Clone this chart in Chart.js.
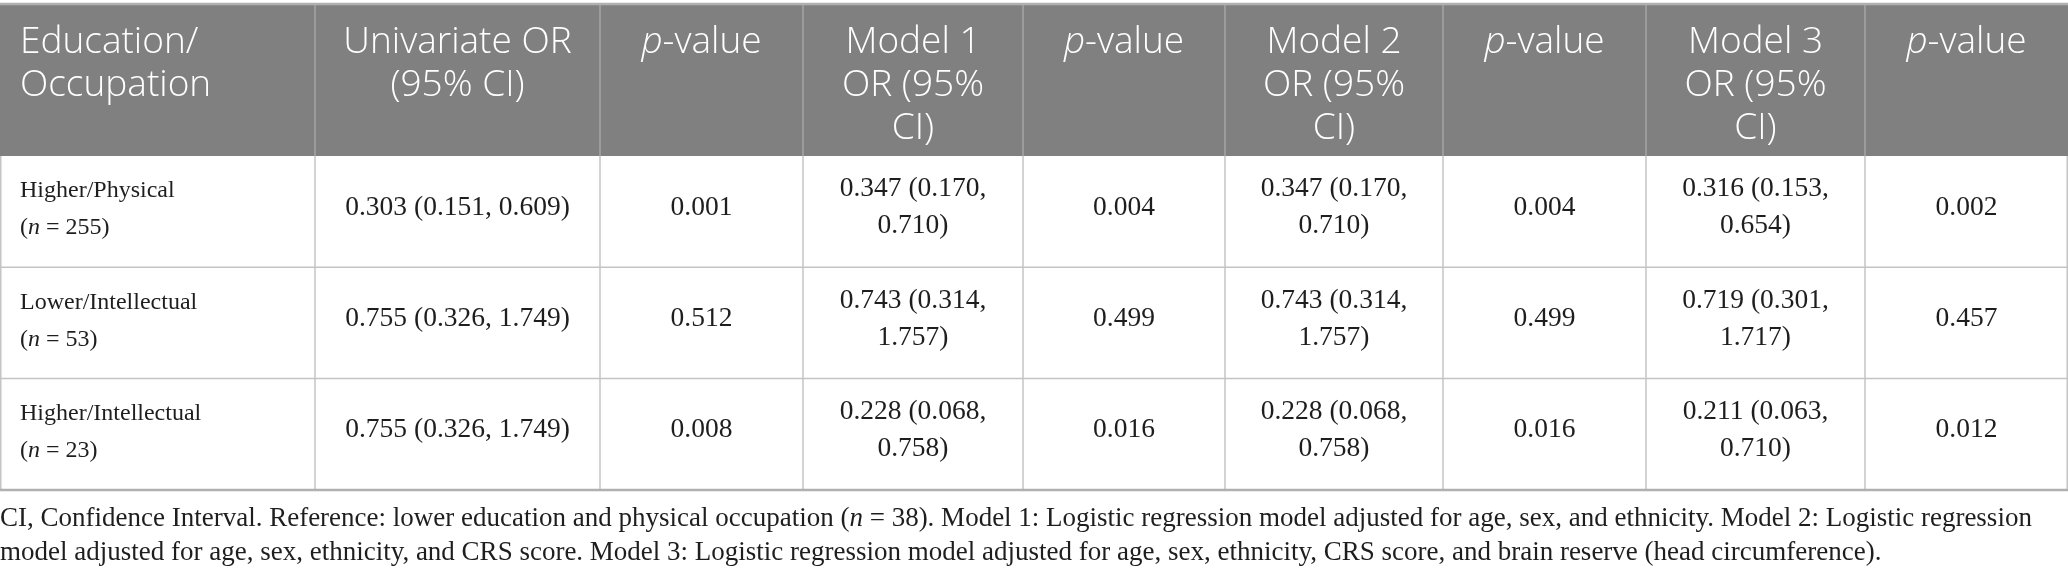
<!DOCTYPE html>
<html><head><meta charset="utf-8">
<script src="https://cdn.jsdelivr.net/npm/chart.js@4/dist/chart.umd.min.js"></script>
<style>html,body{margin:0;padding:0;background:#fff}#wrap{width:2068px;height:580px;position:relative}</style>
</head><body><div id="wrap"><canvas id="c"></canvas></div>
<script>
// ---------- data ----------
const headerLabels = ["Education/\nOccupation","Univariate OR\n(95% CI)","*p*-value","Model 1\nOR (95%\nCI)","*p*-value","Model 2\nOR (95%\nCI)","*p*-value","Model 3\nOR (95%\nCI)","*p*-value"];
const groups = ["Higher/Physical","Lower/Intellectual","Higher/Intellectual"];
const groupN = [255, 53, 23];
const univOR = [0.303, 0.755, 0.755];
const univLo = [0.151, 0.326, 0.326];
const univHi = [0.609, 1.749, 1.749];
const univP  = [0.001, 0.512, 0.008];
const m1OR = [0.347, 0.743, 0.228];
const m1Lo = [0.170, 0.314, 0.068];
const m1Hi = [0.710, 1.757, 0.758];
const m1P  = [0.004, 0.499, 0.016];
const m2OR = [0.347, 0.743, 0.228];
const m2Lo = [0.170, 0.314, 0.068];
const m2Hi = [0.710, 1.757, 0.758];
const m2P  = [0.004, 0.499, 0.016];
const m3OR = [0.316, 0.719, 0.211];
const m3Lo = [0.153, 0.301, 0.063];
const m3Hi = [0.654, 1.717, 0.710];
const m3P  = [0.002, 0.457, 0.012];
const footnoteLines = [
 "CI, Confidence Interval. Reference: lower education and physical occupation (*n* = 38). Model 1: Logistic regression model adjusted for age, sex, and ethnicity. Model 2: Logistic regression",
 "model adjusted for age, sex, ethnicity, and CRS score. Model 3: Logistic regression model adjusted for age, sex, ethnicity, CRS score, and brain reserve (head circumference)."
];

// ---------- layout / style ----------
const layout = {
  colWidths: [315, 285, 203, 220, 202, 218, 203, 219, 203],
  headerTop: 4, headerH: 152, rowH: 111.3,
  headerLine1: 38, headerLineH: 43,
  labelLine1: 35, labelLineH: 37,
  cellPad: 20, cellLineH: 37, cellShift: -4,
  noteLine1: 519, noteLineH: 34
};
const style = {
  headerBg: '#808080', headerText: '#ffffff', headerGrid: '#a6a6a6',
  grid: '#c4c4c4', outer: '#b0b0b0', text: '#1e1e1e',
  headerFont: '"Open Sans", "DejaVu Sans", sans-serif', headerSize: 37, headerWeight: 300,
  bodyFont: '"Liberation Serif", "DejaVu Serif", serif', labelSize: 24, bodySize: 27.5, noteSize: 27
};

const fmt = v => v.toFixed(3);
const ci = (o,l,h) => `${fmt(o)} (${fmt(l)}, ${fmt(h)})`;
const rows = groups.map((g,i) => [
  [g, `(*n* = ${groupN[i]})`],
  ci(univOR[i],univLo[i],univHi[i]), fmt(univP[i]),
  ci(m1OR[i],m1Lo[i],m1Hi[i]), fmt(m1P[i]),
  ci(m2OR[i],m2Lo[i],m2Hi[i]), fmt(m2P[i]),
  ci(m3OR[i],m3Lo[i],m3Hi[i]), fmt(m3P[i])
]);

function segs(t){ return t.split('*').map((s,k)=>({s, it: k%2===1})).filter(o=>o.s.length); }
function fontStr(fam,size,it,wt){ return `${it?'italic ':''}${wt||'normal'} ${size}px ${fam}`; }
function richWidth(ctx,t,fam,size,wt){ let w=0; for(const g of segs(t)){ ctx.font=fontStr(fam,size,g.it,wt); w+=ctx.measureText(g.s).width; } return w; }
function drawRich(ctx,t,x,y,align,fam,size,wt){
  const w = richWidth(ctx,t,fam,size,wt);
  let cx = align==='center' ? x - w/2 : x;
  ctx.textAlign='left'; ctx.textBaseline='middle';
  for(const g of segs(t)){ ctx.font=fontStr(fam,size,g.it,wt); ctx.fillText(g.s,cx,y); cx+=ctx.measureText(g.s).width; }
}
function wrap(ctx,t,maxW,fam,size){
  const words=t.split(' '); const out=[]; let cur='';
  for(const w of words){ const test=cur?cur+' '+w:w; if(cur && richWidth(ctx,test,fam,size)>maxW){ out.push(cur); cur=w; } else cur=test; }
  if(cur) out.push(cur); return out;
}

const tablePlugin = {
  id: 'tablePlugin',
  afterDraw(chart){
    const {ctx, scales:{x, y}} = chart;
    const edges=[0]; layout.colWidths.forEach(w=>edges.push(edges[edges.length-1]+w));
    const X = v => x.getPixelForValue(v), Y = v => y.getPixelForValue(v);
    const hTop = layout.headerTop, hBot = hTop + layout.headerH;
    const tBot = hBot + rows.length*layout.rowH;
    const L = X(edges[0]), R = X(edges[edges.length-1]);
    ctx.save();
    // header background
    ctx.fillStyle = style.headerBg;
    ctx.fillRect(L, Y(hTop), R-L, Y(hBot)-Y(hTop));
    // header text
    ctx.fillStyle = style.headerText;
    headerLabels.forEach((h,c)=>{
      h.split('\n').forEach((ln,k)=>{
        const yy = Y(hTop + layout.headerLine1 + k*layout.headerLineH);
        if(c===0) drawRich(ctx,ln,X(edges[c])+layout.cellPad,yy,'left',style.headerFont,style.headerSize,style.headerWeight);
        else drawRich(ctx,ln,(X(edges[c])+X(edges[c+1]))/2,yy,'center',style.headerFont,style.headerSize,style.headerWeight);
      });
    });
    // body
    ctx.fillStyle = style.text;
    rows.forEach((r,ri)=>{
      const top = hBot + ri*layout.rowH;
      r.forEach((cell,c)=>{
        if(c===0){
          cell.forEach((ln,k)=> drawRich(ctx,ln,X(edges[0])+layout.cellPad,Y(top+layout.labelLine1+k*layout.labelLineH),'left',style.bodyFont,style.labelSize));
        } else {
          const w = X(edges[c+1])-X(edges[c]) - 2*layout.cellPad;
          const lines = wrap(ctx,cell,w,style.bodyFont,style.bodySize);
          const mid = top + layout.rowH/2 + layout.cellShift;
          lines.forEach((ln,k)=>{
            const yy = mid + (k-(lines.length-1)/2)*layout.cellLineH;
            drawRich(ctx,ln,(X(edges[c])+X(edges[c+1]))/2,Y(yy),'center',style.bodyFont,style.bodySize);
          });
        }
      });
    });
    // grid lines
    ctx.lineWidth = 1.5;
    for(let c=1;c<edges.length-1;c++){
      ctx.strokeStyle = style.headerGrid;
      ctx.beginPath(); ctx.moveTo(X(edges[c]),Y(hTop)); ctx.lineTo(X(edges[c]),Y(hBot)); ctx.stroke();
      ctx.strokeStyle = style.grid;
      ctx.beginPath(); ctx.moveTo(X(edges[c]),Y(hBot)); ctx.lineTo(X(edges[c]),Y(tBot)); ctx.stroke();
    }
    ctx.strokeStyle = style.grid;
    [L+0.75, R-0.75].forEach(xx=>{ ctx.beginPath(); ctx.moveTo(xx,Y(hBot)); ctx.lineTo(xx,Y(tBot)); ctx.stroke(); });
    for(let ri=1; ri<rows.length; ri++){
      const yy=Y(hBot+ri*layout.rowH);
      ctx.beginPath(); ctx.moveTo(L,yy); ctx.lineTo(R,yy); ctx.stroke();
    }
    ctx.strokeStyle = style.outer; ctx.lineWidth = 2.5;
    [hTop, tBot].forEach(v=>{ ctx.beginPath(); ctx.moveTo(L,Y(v)); ctx.lineTo(R,Y(v)); ctx.stroke(); });
    // footnote
    ctx.fillStyle = style.text;
    footnoteLines.forEach((ln,k)=> drawRich(ctx,ln,X(0),Y(layout.noteLine1+k*layout.noteLineH),'left',style.bodyFont,style.noteSize));
    ctx.restore();
  }
};

new Chart(document.getElementById('c'), {
  type: 'scatter',
  data: { datasets: [{ data: [], pointRadius: 0 }] },
  options: {
    responsive: true, maintainAspectRatio: false, animation: false, devicePixelRatio: 1,
    layout: { padding: 0 },
    plugins: { legend: { display: false }, tooltip: { enabled: false } },
    scales: {
      x: { type: 'linear', min: 0, max: 2068, display: false },
      y: { type: 'linear', min: 0, max: 580, reverse: true, display: false }
    }
  },
  plugins: [tablePlugin]
});
</script>
</body></html>
